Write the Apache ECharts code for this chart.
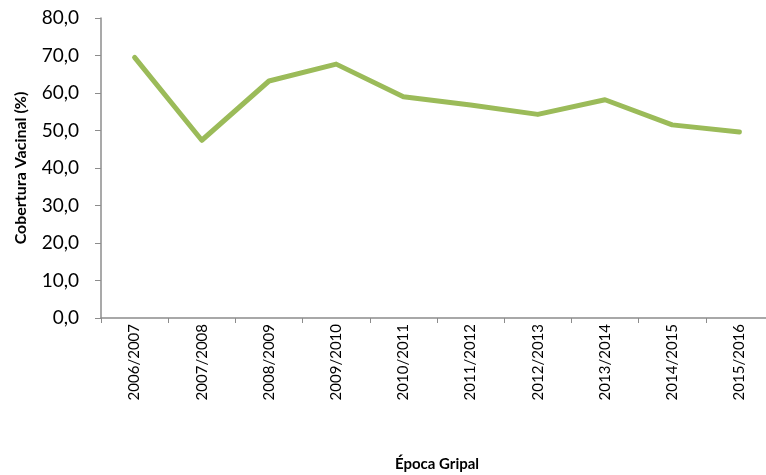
<!DOCTYPE html>
<html>
<head>
<meta charset="utf-8">
<script src="https://cdn.jsdelivr.net/npm/echarts@6/dist/echarts.min.js"></script>
<style>
  html, body { margin: 0; padding: 0; background: #fff; }
  #chart { width: 766px; height: 475px; }
</style>
</head>
<body>
<div id="chart"></div>
<script>
"use strict";

// épocas gripais e cobertura vacinal (%)
const EPOCAS = ["2006/2007", "2007/2008", "2008/2009", "2009/2010", "2010/2011",
  "2011/2012", "2012/2013", "2013/2014", "2014/2015", "2015/2016"];
const COBERTURA = [69.5, 47.4, 63.2, 67.7, 59.0, 56.8, 54.3, 58.2, 51.5, 49.6];

const FONT = "Lato, 'Open Sans', sans-serif";
const AXIS_GREY = "#8c8c8c";

const fmtY = v => v.toFixed(1).replace(".", ",");

echarts.init(document.getElementById("chart")).setOption({
  animation: false,
  grid: { left: 101, right: -7, top: 18, bottom: 157, outerBoundsMode: "none" },
  xAxis: {
    type: "category",
    data: EPOCAS,
    boundaryGap: true,
    name: "Época Gripal",
    nameLocation: "middle",
    nameGap: 139,
    nameTextStyle: { fontFamily: FONT, fontSize: 15, fontWeight: "bold", color: "#000" },
    axisLine: { lineStyle: { color: AXIS_GREY, width: 1.5 } },
    axisTick: { show: true, length: 5, lineStyle: { color: AXIS_GREY } },
    axisLabel: { rotate: 90, margin: 6, fontFamily: FONT, fontSize: 15, color: "#000", interval: 0 },
  },
  yAxis: {
    type: "value",
    min: 0, max: 80, interval: 10,
    name: "Cobertura Vacinal (%)",
    nameLocation: "middle",
    nameGap: 72,
    nameRotate: 90,
    nameTextStyle: { fontFamily: FONT, fontSize: 16, fontWeight: "bold", color: "#000" },
    axisLine: { show: true, lineStyle: { color: AXIS_GREY, width: 1.5 } },
    axisTick: { show: true, length: 6, lineStyle: { color: AXIS_GREY } },
    splitLine: { show: false },
    axisLabel: { formatter: fmtY, margin: 22, fontFamily: FONT, fontSize: 19, color: "#000" },
  },
  series: [{
    type: "line",
    data: COBERTURA,
    showSymbol: false,
    lineStyle: { color: "#9bbb59", width: 5, cap: "round", join: "round" },
  }],
});
</script>
</body>
</html>
